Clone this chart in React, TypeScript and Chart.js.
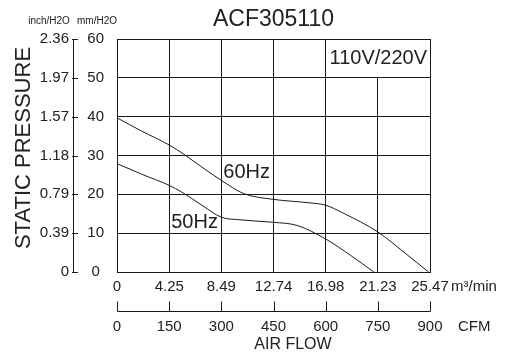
import React, { useEffect, useRef } from 'react';
import { Chart, registerables } from 'chart.js';

Chart.register(...registerables);

const titleText = 'ACF305110';
const yAxisTitle = 'STATIC PRESSURE';
const xAxisTitle = 'AIR FLOW';
const m3Unit = 'm³/min';
const cfmUnit = 'CFM';
const inchUnit = 'inch/H2O';
const mmUnit = 'mm/H2O';
const voltText = '110V/220V';

const m3Labels = ['0', '4.25', '8.49', '12.74', '16.98', '21.23', '25.47'];
const cfmLabels = ['0', '150', '300', '450', '600', '750', '900'];
const mmLabels = ['0', '10', '20', '30', '40', '50', '60'];
const inchLabels = ['0', '0.39', '0.79', '1.18', '1.57', '1.97', '2.36'];

const hz60Label = '60Hz';
const hz60X = [0, 2.0, 4.25, 5.4, 7.0, 8.49, 10.3, 12.74, 15.7, 16.98, 18.45, 21.23, 23.35, 25.35];
const hz60Y = [39.7, 36.3, 32.7, 30.4, 26.8, 23.6, 20.2, 18.7, 17.8, 17.2, 15.1, 10.3, 5.1, 0];

const hz50Label = '50Hz';
const hz50X = [0, 2.0, 4.25, 5.26, 7.0, 8.49, 9.74, 12.74, 14.64, 16.98, 19.0, 20.9];
const hz50Y = [27.9, 25.2, 22.3, 20.6, 17.0, 14.1, 13.5, 12.8, 12.0, 8.5, 4.3, 0];

const FONT = 'Arial, "Liberation Sans", Helvetica, sans-serif';
const INK = '#1a1a1a';
const TXT = '#222';

const toPts = (xs: number[], ys: number[]) => xs.map((x, i) => ({ x, y: ys[i] }));

const overlay = {
  id: 'overlay',
  afterDraw(chart: any) {
    const { ctx, chartArea, scales } = chart;
    const x = scales.x;
    const y = scales.y;
    const yi = scales.yInch;
    const cfm = scales.cfm;
    ctx.save();
    ctx.strokeStyle = INK;
    ctx.lineWidth = 1;

    // inch axis ticks, pointing right
    yi.ticks.forEach((t: any) => {
      const py = Math.round(yi.getPixelForValue(t.value)) + 0.5;
      ctx.beginPath();
      ctx.moveTo(yi.right - 1, py);
      ctx.lineTo(yi.right + 5, py);
      ctx.stroke();
    });

    // CFM axis line with ticks pointing up
    const ly = Math.round(cfm.top + 11) + 0.5;
    ctx.beginPath();
    ctx.moveTo(Math.round(cfm.left) + 0.5, ly);
    ctx.lineTo(Math.round(cfm.right) + 0.5, ly);
    ctx.stroke();
    cfm.ticks.forEach((t: any) => {
      const px = Math.round(cfm.getPixelForValue(t.value)) + 0.5;
      ctx.beginPath();
      ctx.moveTo(px, ly);
      ctx.lineTo(px, ly - 10);
      ctx.stroke();
    });

    // voltage box
    const bx0 = x.getPixelForValue(16.98) + 1;
    const by1 = y.getPixelForValue(50) - 1;
    ctx.fillStyle = '#fff';
    ctx.fillRect(bx0, chartArea.top + 1, chartArea.right - 1 - bx0, by1 - chartArea.top - 1);
    ctx.fillStyle = TXT;
    ctx.textBaseline = 'middle';
    ctx.textAlign = 'center';
    ctx.font = `20px ${FONT}`;
    ctx.fillText(voltText, (bx0 + chartArea.right) / 2, (chartArea.top + by1) / 2 + 1);

    // curve labels
    ctx.textAlign = 'left';
    ctx.font = `20px ${FONT}`;
    ctx.fillText(hz60Label, x.getPixelForValue(8.49) + 2, y.getPixelForValue(25.7));
    ctx.fillText(hz50Label, x.getPixelForValue(4.25) + 2, y.getPixelForValue(12.85));

    // units
    ctx.font = `10px ${FONT}`;
    ctx.textAlign = 'center';
    ctx.fillText(inchUnit, 49, 21);
    ctx.fillText(mmUnit, 97, 21);

    ctx.font = `15px ${FONT}`;
    ctx.textAlign = 'left';
    ctx.fillText(m3Unit, chartArea.right + 21, chartArea.bottom + 15);
    ctx.fillText(cfmUnit, chartArea.right + 28, cfm.top + 27);

    ctx.font = `16px ${FONT}`;
    ctx.textAlign = 'center';
    ctx.fillText(xAxisTitle, 293, cfm.top + 45);

    // vertical title
    ctx.save();
    ctx.translate(24, 148);
    ctx.rotate(-Math.PI / 2);
    ctx.font = `22px ${FONT}`;
    ctx.textAlign = 'center';
    ctx.fillText(yAxisTitle, 0, 0);
    ctx.restore();

    ctx.restore();
  },
};

export default function App() {
  const ref = useRef<HTMLCanvasElement | null>(null);

  useEffect(() => {
    if (!ref.current) return;
    const tickFont = { family: FONT, size: 15 };
    const chart = new Chart(ref.current, {
      type: 'scatter',
      data: {
        datasets: [
          {
            label: hz60Label,
            data: toPts(hz60X, hz60Y),
            showLine: true,
            borderColor: INK,
            borderWidth: 1,
            pointRadius: 0,
            cubicInterpolationMode: 'monotone',
            xAxisID: 'x',
            yAxisID: 'y',
          } as any,
          {
            label: hz50Label,
            data: toPts(hz50X, hz50Y),
            showLine: true,
            borderColor: INK,
            borderWidth: 1,
            pointRadius: 0,
            cubicInterpolationMode: 'monotone',
            xAxisID: 'x',
            yAxisID: 'y',
          } as any,
        ],
      },
      options: {
        responsive: false,
        animation: false,
        layout: { padding: { left: 0, right: 77, top: 0, bottom: 0 } },
        plugins: {
          legend: { display: false },
          tooltip: { enabled: false },
          title: {
            display: true,
            text: titleText,
            fullSize: false,
            color: TXT,
            font: { family: FONT, size: 23, weight: 'normal', lineHeight: 1 },
            padding: { top: 8, bottom: 8 },
          },
        },
        scales: {
          x: {
            type: 'linear',
            position: 'bottom',
            weight: 0,
            min: 0,
            max: parseFloat(m3Labels[m3Labels.length - 1]),
            afterBuildTicks: (s: any) => {
              s.ticks = m3Labels.map((l) => ({ value: parseFloat(l) }));
            },
            afterFit: (s: any) => {
              s.height = 28;
            },
            ticks: {
              callback: (_v: any, i: number) => m3Labels[i],
              padding: 6,
              maxRotation: 0,
              autoSkip: false,
              color: TXT,
              font: tickFont,
            },
            grid: { color: INK, lineWidth: 1, drawTicks: false },
            border: { color: INK, width: 1 },
          },
          cfm: {
            type: 'linear',
            position: 'bottom',
            weight: 1,
            min: 0,
            max: parseFloat(cfmLabels[cfmLabels.length - 1]),
            afterBuildTicks: (s: any) => {
              s.ticks = cfmLabels.map((l) => ({ value: parseFloat(l) }));
            },
            afterFit: (s: any) => {
              s.height = 53;
            },
            ticks: {
              callback: (_v: any, i: number) => cfmLabels[i],
              padding: 18,
              maxRotation: 0,
              autoSkip: false,
              color: TXT,
              font: tickFont,
            },
            grid: { display: false, drawTicks: false },
            border: { display: false },
          },
          y: {
            type: 'linear',
            position: 'left',
            weight: 0,
            min: 0,
            max: parseFloat(mmLabels[mmLabels.length - 1]),
            afterBuildTicks: (s: any) => {
              s.ticks = mmLabels.map((l) => ({ value: parseFloat(l) }));
            },
            afterFit: (s: any) => {
              s.width = 44;
            },
            ticks: {
              callback: (_v: any, i: number) => mmLabels[i],
              padding: 13,
              crossAlign: 'center',
              autoSkip: false,
              color: TXT,
              font: tickFont,
            },
            grid: { color: INK, lineWidth: 1, drawTicks: false },
            border: { color: INK, width: 1 },
          },
          yInch: {
            type: 'linear',
            position: 'left',
            weight: 1,
            min: 0,
            max: parseFloat(mmLabels[mmLabels.length - 1]) / 25.4,
            afterBuildTicks: (s: any) => {
              s.ticks = mmLabels.map((l) => ({ value: parseFloat(l) / 25.4 }));
            },
            afterFit: (s: any) => {
              s.width = 73;
            },
            ticks: {
              callback: (_v: any, i: number) => inchLabels[i],
              padding: 4,
              crossAlign: 'near',
              autoSkip: false,
              color: TXT,
              font: tickFont,
            },
            grid: { drawOnChartArea: false, drawTicks: false },
            border: { color: INK, width: 1 },
          },
        },
      } as any,
      plugins: [overlay],
    });
    return () => chart.destroy();
  }, []);

  return (
    <div style={{ position: 'absolute', left: 0, top: 0, width: 507, height: 353, background: '#fff' }}>
      <canvas ref={ref} width={507} height={353} style={{ display: 'block' }} />
    </div>
  );
}
